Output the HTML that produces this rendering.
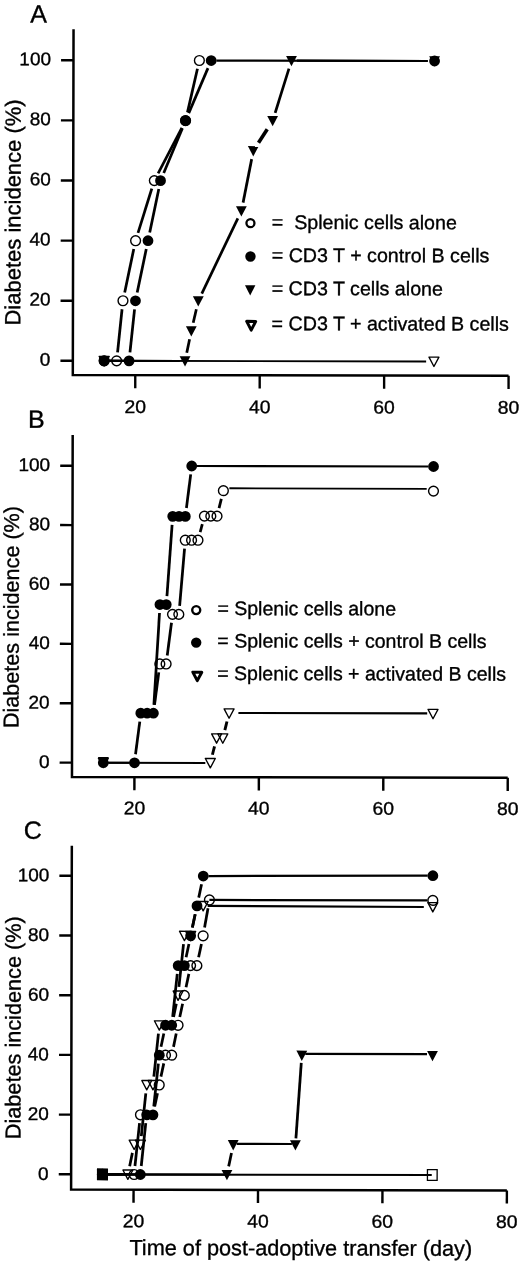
<!DOCTYPE html>
<html><head><meta charset="utf-8"><title>Figure</title>
<style>
html,body{margin:0;padding:0;background:#fff}
svg{display:block}
text{font-family:"Liberation Sans",sans-serif;fill:#000;stroke:#000;stroke-width:0.35px}
.tk{font-size:18.4px}
.pl{font-size:25px}
.yl{font-size:22px}
.xl{font-size:21.7px}
.lg{font-size:19.55px}
</style></head><body>
<svg width="520" height="1263" viewBox="0 0 520 1263">
<rect width="520" height="1263" fill="#fff"/>
<g transform="rotate(0.12)">
<text class="pl" x="30.3" y="22.3">A</text>
<path d="M73.6,29.0 V374.75 H509.35" fill="none" stroke="#000" stroke-width="2.5" stroke-linejoin="miter"/>
<line x1="61.199999999999996" y1="360.65" x2="73.6" y2="360.65" stroke="#000" stroke-width="2.4"/>
<text class="tk" transform="translate(51.1,365.6) scale(1.03,1)" text-anchor="end">0</text>
<line x1="61.199999999999996" y1="300.55" x2="73.6" y2="300.55" stroke="#000" stroke-width="2.4"/>
<text class="tk" transform="translate(51.1,305.5) scale(1.03,1)" text-anchor="end">20</text>
<line x1="61.199999999999996" y1="240.45" x2="73.6" y2="240.45" stroke="#000" stroke-width="2.4"/>
<text class="tk" transform="translate(51.1,245.4) scale(1.03,1)" text-anchor="end">40</text>
<line x1="61.199999999999996" y1="180.35" x2="73.6" y2="180.35" stroke="#000" stroke-width="2.4"/>
<text class="tk" transform="translate(51.1,185.3) scale(1.03,1)" text-anchor="end">60</text>
<line x1="61.199999999999996" y1="120.25" x2="73.6" y2="120.25" stroke="#000" stroke-width="2.4"/>
<text class="tk" transform="translate(51.1,125.2) scale(1.03,1)" text-anchor="end">80</text>
<line x1="61.199999999999996" y1="60.15" x2="73.6" y2="60.15" stroke="#000" stroke-width="2.4"/>
<text class="tk" transform="translate(51.1,65.1) scale(1.03,1)" text-anchor="end">100</text>
<line x1="136.05" y1="374.75" x2="136.05" y2="387.95" stroke="#000" stroke-width="2.4"/>
<text class="tk" transform="translate(136.1,412.8) scale(1.05,1)" text-anchor="middle">20</text>
<line x1="260.49" y1="374.75" x2="260.49" y2="387.95" stroke="#000" stroke-width="2.4"/>
<text class="tk" transform="translate(260.5,412.8) scale(1.05,1)" text-anchor="middle">40</text>
<line x1="384.93" y1="374.75" x2="384.93" y2="387.95" stroke="#000" stroke-width="2.4"/>
<text class="tk" transform="translate(384.9,412.8) scale(1.05,1)" text-anchor="middle">60</text>
<line x1="509.37" y1="374.75" x2="509.37" y2="387.95" stroke="#000" stroke-width="2.4"/>
<text class="tk" transform="translate(509.4,412.8) scale(1.05,1)" text-anchor="middle">80</text>
<text class="yl" style="font-size:22px" transform="translate(21.0,212.4) rotate(-90)" text-anchor="middle">Diabetes incidence (%)</text>
<polygon points="99.97,356.22 109.91,356.22 104.94,365.57" fill="none" stroke="#000" stroke-width="1.35" stroke-linejoin="round"/><polygon points="429.73,356.22 439.68,356.22 434.71,365.57" fill="none" stroke="#000" stroke-width="1.35" stroke-linejoin="round"/><circle cx="104.9" cy="360.6" r="4.90" fill="none" stroke="#000" stroke-width="1.4"/><circle cx="117.4" cy="360.6" r="4.90" fill="none" stroke="#000" stroke-width="1.4"/><circle cx="123.6" cy="300.5" r="4.90" fill="none" stroke="#000" stroke-width="1.4"/><circle cx="136.1" cy="240.4" r="4.90" fill="none" stroke="#000" stroke-width="1.4"/><circle cx="154.7" cy="180.3" r="4.90" fill="none" stroke="#000" stroke-width="1.4"/><circle cx="185.8" cy="120.2" r="4.90" fill="none" stroke="#000" stroke-width="1.4"/><circle cx="199.5" cy="60.1" r="4.90" fill="none" stroke="#000" stroke-width="1.4"/>
<line x1="104.9" y1="360.6" x2="426.9" y2="360.6" stroke="#000" stroke-width="1.90"/><line x1="110.1" y1="360.6" x2="112.2" y2="360.6" stroke="#000" stroke-width="2.20"/><line x1="118.3" y1="352.2" x2="122.7" y2="309.0" stroke="#000" stroke-width="2.75"/><line x1="125.3" y1="292.3" x2="134.3" y2="248.7" stroke="#000" stroke-width="2.74"/><line x1="138.5" y1="232.5" x2="152.2" y2="188.3" stroke="#000" stroke-width="2.73"/><line x1="158.5" y1="173.1" x2="182.1" y2="127.5" stroke="#000" stroke-width="2.69"/><line x1="187.7" y1="112.0" x2="197.6" y2="68.4" stroke="#000" stroke-width="2.74"/><line x1="110.1" y1="360.6" x2="180.6" y2="360.6" stroke="#000" stroke-width="2.20"/><line x1="187.5" y1="352.4" x2="190.3" y2="338.9" stroke="#000" stroke-width="2.74"/><line x1="193.9" y1="322.4" x2="197.0" y2="308.8" stroke="#000" stroke-width="2.74"/><line x1="202.4" y1="293.2" x2="238.3" y2="217.8" stroke="#000" stroke-width="2.70"/><line x1="243.5" y1="202.1" x2="252.0" y2="158.6" stroke="#000" stroke-width="2.74"/><line x1="258.8" y1="142.3" x2="267.5" y2="128.7" stroke="#000" stroke-width="3.60"/><line x1="275.4" y1="112.3" x2="289.1" y2="68.1" stroke="#000" stroke-width="2.73"/><line x1="297.1" y1="60.1" x2="427.9" y2="60.1" stroke="#000" stroke-width="2.20"/><line x1="110.1" y1="360.6" x2="124.6" y2="360.6" stroke="#000" stroke-width="2.20"/><line x1="130.7" y1="352.2" x2="135.2" y2="309.0" stroke="#000" stroke-width="2.75"/><line x1="137.8" y1="292.3" x2="146.8" y2="248.7" stroke="#000" stroke-width="2.74"/><line x1="150.2" y1="232.2" x2="159.2" y2="188.6" stroke="#000" stroke-width="2.74"/><line x1="164.1" y1="172.7" x2="182.7" y2="127.9" stroke="#000" stroke-width="2.71"/><line x1="189.0" y1="112.7" x2="208.1" y2="67.7" stroke="#000" stroke-width="2.71"/><line x1="216.5" y1="60.1" x2="427.9" y2="60.1" stroke="#000" stroke-width="2.20"/>
<polygon points="99.5,355.9 110.3,355.9 104.9,366.2" fill="#000"/><polygon points="180.4,355.9 191.2,355.9 185.8,366.2" fill="#000"/><polygon points="186.6,325.9 197.4,325.9 192.0,336.2" fill="#000"/><polygon points="193.5,295.8 204.3,295.8 198.9,306.1" fill="#000"/><polygon points="236.4,205.7 247.2,205.7 241.8,216.0" fill="#000"/><polygon points="248.2,145.6 259.0,145.6 253.6,155.9" fill="#000"/><polygon points="267.5,115.5 278.3,115.5 272.9,125.8" fill="#000"/><polygon points="286.2,55.4 297.0,55.4 291.6,65.7" fill="#000"/><polygon points="429.3,55.4 440.1,55.4 434.7,65.7" fill="#000"/><circle cx="104.9" cy="360.6" r="5.4" fill="#000"/><circle cx="129.8" cy="360.6" r="5.4" fill="#000"/><circle cx="136.1" cy="300.5" r="5.4" fill="#000"/><circle cx="148.5" cy="240.4" r="5.4" fill="#000"/><circle cx="160.9" cy="180.3" r="5.4" fill="#000"/><circle cx="185.8" cy="120.2" r="5.4" fill="#000"/><circle cx="211.3" cy="60.1" r="5.4" fill="#000"/><circle cx="434.7" cy="60.1" r="5.4" fill="#000"/>
<circle cx="250.9" cy="222.6" r="4.0" fill="none" stroke="#000" stroke-width="2.3"/>
<circle cx="251.0" cy="256.0" r="5.2" fill="#000"/>
<polygon points="245.6,284.7 256.0,284.7 250.8,294.9" fill="#000"/>
<polygon points="247.40,320.85 256.40,320.85 251.90,329.55" fill="none" stroke="#000" stroke-width="3.0" stroke-linejoin="round"/>
<text class="lg" style="font-size:19.65px" x="272.3" y="228.3">=&#160; Splenic cells alone</text>
<text class="lg" style="font-size:19.65px" x="272.3" y="261.3">= CD3 T + control B cells</text>
<text class="lg" style="font-size:19.65px" x="272.3" y="294.5">= CD3 T cells alone</text>
<text class="lg" style="font-size:19.65px" x="272.3" y="329.6">= CD3 T + activated B cells</text>
<text class="pl" x="29.0" y="427.8">B</text>
<path d="M73.6,434.75 V776.75 H509.35" fill="none" stroke="#000" stroke-width="2.5" stroke-linejoin="miter"/>
<line x1="61.199999999999996" y1="762.45" x2="73.6" y2="762.45" stroke="#000" stroke-width="2.4"/>
<text class="tk" transform="translate(51.1,767.8) scale(1.03,1)" text-anchor="end">0</text>
<line x1="61.199999999999996" y1="703.07" x2="73.6" y2="703.07" stroke="#000" stroke-width="2.4"/>
<text class="tk" transform="translate(51.1,708.4) scale(1.03,1)" text-anchor="end">20</text>
<line x1="61.199999999999996" y1="643.69" x2="73.6" y2="643.69" stroke="#000" stroke-width="2.4"/>
<text class="tk" transform="translate(51.1,649.0) scale(1.03,1)" text-anchor="end">40</text>
<line x1="61.199999999999996" y1="584.31" x2="73.6" y2="584.31" stroke="#000" stroke-width="2.4"/>
<text class="tk" transform="translate(51.1,589.6) scale(1.03,1)" text-anchor="end">60</text>
<line x1="61.199999999999996" y1="524.93" x2="73.6" y2="524.93" stroke="#000" stroke-width="2.4"/>
<text class="tk" transform="translate(51.1,530.2) scale(1.03,1)" text-anchor="end">80</text>
<line x1="61.199999999999996" y1="465.55" x2="73.6" y2="465.55" stroke="#000" stroke-width="2.4"/>
<text class="tk" transform="translate(51.1,470.9) scale(1.03,1)" text-anchor="end">100</text>
<line x1="136.05" y1="776.75" x2="136.05" y2="789.95" stroke="#000" stroke-width="2.4"/>
<text class="tk" transform="translate(136.1,814.0) scale(1.05,1)" text-anchor="middle">20</text>
<line x1="260.49" y1="776.75" x2="260.49" y2="789.95" stroke="#000" stroke-width="2.4"/>
<text class="tk" transform="translate(260.5,814.0) scale(1.05,1)" text-anchor="middle">40</text>
<line x1="384.93" y1="776.75" x2="384.93" y2="789.95" stroke="#000" stroke-width="2.4"/>
<text class="tk" transform="translate(384.9,814.0) scale(1.05,1)" text-anchor="middle">60</text>
<line x1="509.37" y1="776.75" x2="509.37" y2="789.95" stroke="#000" stroke-width="2.4"/>
<text class="tk" transform="translate(509.4,814.0) scale(1.05,1)" text-anchor="middle">80</text>
<text class="yl" style="font-size:21.6px" transform="translate(20.1,617.0) rotate(-90)" text-anchor="middle">Diabetes incidence (%)</text>
<polygon points="99.97,758.02 109.91,758.02 104.94,767.37" fill="none" stroke="#000" stroke-width="1.35" stroke-linejoin="round"/><polygon points="206.94,758.02 216.89,758.02 211.91,767.37" fill="none" stroke="#000" stroke-width="1.35" stroke-linejoin="round"/><polygon points="213.16,733.38 223.11,733.38 218.14,742.73" fill="none" stroke="#000" stroke-width="1.35" stroke-linejoin="round"/><polygon points="219.39,733.38 229.33,733.38 224.36,742.73" fill="none" stroke="#000" stroke-width="1.35" stroke-linejoin="round"/><polygon points="225.61,708.44 235.55,708.44 230.58,717.79" fill="none" stroke="#000" stroke-width="1.35" stroke-linejoin="round"/><polygon points="429.53,708.44 439.48,708.44 434.51,717.79" fill="none" stroke="#000" stroke-width="1.35" stroke-linejoin="round"/><circle cx="161.2" cy="663.6" r="4.90" fill="none" stroke="#000" stroke-width="1.4"/><circle cx="167.5" cy="663.6" r="4.90" fill="none" stroke="#000" stroke-width="1.4"/><circle cx="173.8" cy="614.0" r="4.90" fill="none" stroke="#000" stroke-width="1.4"/><circle cx="180.1" cy="614.0" r="4.90" fill="none" stroke="#000" stroke-width="1.4"/><circle cx="186.4" cy="539.8" r="4.90" fill="none" stroke="#000" stroke-width="1.4"/><circle cx="192.7" cy="539.8" r="4.90" fill="none" stroke="#000" stroke-width="1.4"/><circle cx="199.1" cy="539.8" r="4.90" fill="none" stroke="#000" stroke-width="1.4"/><circle cx="205.5" cy="515.7" r="4.90" fill="none" stroke="#000" stroke-width="1.4"/><circle cx="211.9" cy="515.7" r="4.90" fill="none" stroke="#000" stroke-width="1.4"/><circle cx="218.1" cy="515.7" r="4.90" fill="none" stroke="#000" stroke-width="1.4"/><circle cx="224.4" cy="490.2" r="4.90" fill="none" stroke="#000" stroke-width="1.4"/><circle cx="434.5" cy="490.2" r="4.90" fill="none" stroke="#000" stroke-width="1.4"/>
<line x1="104.9" y1="762.5" x2="206.9" y2="762.5" stroke="#000" stroke-width="2.10"/><line x1="214.0" y1="754.3" x2="216.1" y2="746.0" stroke="#000" stroke-width="2.88"/><line x1="226.4" y1="729.7" x2="228.5" y2="721.0" stroke="#000" stroke-width="2.88"/><line x1="239.9" y1="712.5" x2="428.7" y2="712.5" stroke="#000" stroke-width="2.10"/><line x1="156.0" y1="704.5" x2="160.2" y2="672.0" stroke="#000" stroke-width="2.75"/><line x1="168.6" y1="655.2" x2="172.8" y2="622.4" stroke="#000" stroke-width="2.75"/><line x1="180.9" y1="605.5" x2="185.7" y2="548.2" stroke="#000" stroke-width="2.75"/><line x1="201.3" y1="531.7" x2="203.4" y2="523.8" stroke="#000" stroke-width="2.73"/><line x1="220.1" y1="507.6" x2="222.4" y2="498.4" stroke="#000" stroke-width="2.73"/><line x1="230.4" y1="487.8" x2="427.7" y2="488.0" stroke="#000" stroke-width="1.9"/><line x1="110.1" y1="762.5" x2="130.9" y2="762.5" stroke="#000" stroke-width="2.20"/><line x1="137.1" y1="754.0" x2="141.3" y2="721.3" stroke="#000" stroke-width="2.75"/><line x1="155.4" y1="704.4" x2="160.8" y2="612.7" stroke="#000" stroke-width="2.75"/><line x1="168.2" y1="595.7" x2="173.2" y2="524.5" stroke="#000" stroke-width="2.75"/><line x1="187.5" y1="507.6" x2="191.7" y2="474.0" stroke="#000" stroke-width="2.75"/><line x1="197.9" y1="465.6" x2="429.3" y2="465.6" stroke="#000" stroke-width="2.20"/>
<circle cx="104.9" cy="762.5" r="5.4" fill="#000"/><circle cx="136.1" cy="762.5" r="5.4" fill="#000"/><circle cx="142.3" cy="712.9" r="5.4" fill="#000"/><circle cx="148.6" cy="712.9" r="5.4" fill="#000"/><circle cx="154.9" cy="712.9" r="5.4" fill="#000"/><circle cx="161.2" cy="604.2" r="5.4" fill="#000"/><circle cx="167.5" cy="604.2" r="5.4" fill="#000"/><circle cx="173.8" cy="516.0" r="5.4" fill="#000"/><circle cx="180.1" cy="516.0" r="5.4" fill="#000"/><circle cx="186.4" cy="516.0" r="5.4" fill="#000"/><circle cx="192.7" cy="465.6" r="5.4" fill="#000"/><circle cx="434.5" cy="465.6" r="5.4" fill="#000"/>
<polygon points="99.5,756.8 110.3,756.8 104.9,767.0" fill="#000"/>
<circle cx="197.5" cy="609.7" r="4.0" fill="none" stroke="#000" stroke-width="2.4"/>
<circle cx="197.55" cy="642.2" r="5.2" fill="#000"/>
<polygon points="194.20,671.75 203.20,671.75 198.70,680.25" fill="none" stroke="#000" stroke-width="3.0" stroke-linejoin="round"/>
<text class="lg" x="218.7" y="614.6">= Splenic cells alone</text>
<text class="lg" x="218.7" y="646.9">= Splenic cells + control B cells</text>
<text class="lg" x="218.7" y="679.6">= Splenic cells + activated B cells</text>
<text class="pl" x="25.5" y="838.6">C</text>
<path d="M73.6,845.65 V1189.35 H509.35" fill="none" stroke="#000" stroke-width="2.5" stroke-linejoin="miter"/>
<line x1="61.199999999999996" y1="1174.15" x2="73.6" y2="1174.15" stroke="#000" stroke-width="2.4"/>
<text class="tk" transform="translate(51.1,1179.8) scale(1.03,1)" text-anchor="end">0</text>
<line x1="61.199999999999996" y1="1114.45" x2="73.6" y2="1114.45" stroke="#000" stroke-width="2.4"/>
<text class="tk" transform="translate(51.1,1120.0) scale(1.03,1)" text-anchor="end">20</text>
<line x1="61.199999999999996" y1="1054.75" x2="73.6" y2="1054.75" stroke="#000" stroke-width="2.4"/>
<text class="tk" transform="translate(51.1,1060.3) scale(1.03,1)" text-anchor="end">40</text>
<line x1="61.199999999999996" y1="995.05" x2="73.6" y2="995.05" stroke="#000" stroke-width="2.4"/>
<text class="tk" transform="translate(51.1,1000.6) scale(1.03,1)" text-anchor="end">60</text>
<line x1="61.199999999999996" y1="935.35" x2="73.6" y2="935.35" stroke="#000" stroke-width="2.4"/>
<text class="tk" transform="translate(51.1,941.0) scale(1.03,1)" text-anchor="end">80</text>
<line x1="61.199999999999996" y1="875.65" x2="73.6" y2="875.65" stroke="#000" stroke-width="2.4"/>
<text class="tk" transform="translate(51.1,881.2) scale(1.03,1)" text-anchor="end">100</text>
<line x1="136.05" y1="1189.35" x2="136.05" y2="1202.55" stroke="#000" stroke-width="2.4"/>
<text class="tk" transform="translate(136.1,1226.9) scale(1.05,1)" text-anchor="middle">20</text>
<line x1="260.49" y1="1189.35" x2="260.49" y2="1202.55" stroke="#000" stroke-width="2.4"/>
<text class="tk" transform="translate(260.5,1226.9) scale(1.05,1)" text-anchor="middle">40</text>
<line x1="384.93" y1="1189.35" x2="384.93" y2="1202.55" stroke="#000" stroke-width="2.4"/>
<text class="tk" transform="translate(384.9,1226.9) scale(1.05,1)" text-anchor="middle">60</text>
<line x1="509.37" y1="1189.35" x2="509.37" y2="1202.55" stroke="#000" stroke-width="2.4"/>
<text class="tk" transform="translate(509.4,1226.9) scale(1.05,1)" text-anchor="middle">80</text>
<text class="yl" style="font-size:21.7px" transform="translate(22.8,1027.7) rotate(-90)" text-anchor="middle">Diabetes incidence (%)</text>
<rect x="100.1" y="1168.8" width="9.7" height="10.7" fill="none" stroke="#000" stroke-width="1.3"/><rect x="429.9" y="1168.8" width="9.7" height="10.7" fill="none" stroke="#000" stroke-width="1.3"/><polygon points="99.97,1169.73 109.91,1169.73 104.94,1179.07" fill="none" stroke="#000" stroke-width="1.35" stroke-linejoin="round"/><polygon points="125.36,1169.73 135.31,1169.73 130.34,1179.07" fill="none" stroke="#000" stroke-width="1.35" stroke-linejoin="round"/><polygon points="131.59,1139.88 141.54,1139.88 136.56,1149.22" fill="none" stroke="#000" stroke-width="1.35" stroke-linejoin="round"/><polygon points="137.82,1139.88 147.77,1139.88 142.79,1149.22" fill="none" stroke="#000" stroke-width="1.35" stroke-linejoin="round"/><polygon points="144.05,1080.18 154.00,1080.18 149.02,1089.52" fill="none" stroke="#000" stroke-width="1.35" stroke-linejoin="round"/><polygon points="150.28,1080.18 160.22,1080.18 155.25,1089.52" fill="none" stroke="#000" stroke-width="1.35" stroke-linejoin="round"/><polygon points="156.51,1020.48 166.45,1020.48 161.48,1029.82" fill="none" stroke="#000" stroke-width="1.35" stroke-linejoin="round"/><polygon points="175.20,990.62 185.14,990.62 180.17,999.97" fill="none" stroke="#000" stroke-width="1.35" stroke-linejoin="round"/><polygon points="181.42,930.92 191.37,930.92 186.40,940.27" fill="none" stroke="#000" stroke-width="1.35" stroke-linejoin="round"/><polygon points="187.65,930.92 197.60,930.92 192.63,940.27" fill="none" stroke="#000" stroke-width="1.35" stroke-linejoin="round"/><polygon points="200.11,901.07 210.06,901.07 205.08,910.42" fill="none" stroke="#000" stroke-width="1.35" stroke-linejoin="round"/><polygon points="429.73,901.67 439.68,901.67 434.71,911.02" fill="none" stroke="#000" stroke-width="1.35" stroke-linejoin="round"/><circle cx="104.9" cy="1174.2" r="4.90" fill="none" stroke="#000" stroke-width="1.4"/><circle cx="136.6" cy="1174.2" r="4.90" fill="none" stroke="#000" stroke-width="1.4"/><circle cx="142.8" cy="1114.5" r="4.90" fill="none" stroke="#000" stroke-width="1.4"/><circle cx="161.5" cy="1084.6" r="4.90" fill="none" stroke="#000" stroke-width="1.4"/><circle cx="167.7" cy="1054.8" r="4.90" fill="none" stroke="#000" stroke-width="1.4"/><circle cx="173.9" cy="1054.8" r="4.90" fill="none" stroke="#000" stroke-width="1.4"/><circle cx="180.2" cy="1024.9" r="4.90" fill="none" stroke="#000" stroke-width="1.4"/><circle cx="186.4" cy="995.0" r="4.90" fill="none" stroke="#000" stroke-width="1.4"/><circle cx="192.6" cy="965.2" r="4.90" fill="none" stroke="#000" stroke-width="1.4"/><circle cx="198.9" cy="965.2" r="4.90" fill="none" stroke="#000" stroke-width="1.4"/><circle cx="205.1" cy="935.4" r="4.90" fill="none" stroke="#000" stroke-width="1.4"/><circle cx="211.3" cy="899.5" r="4.90" fill="none" stroke="#000" stroke-width="1.4"/><circle cx="434.7" cy="899.5" r="4.90" fill="none" stroke="#000" stroke-width="1.4"/>
<line x1="104.9" y1="1174.2" x2="434.2" y2="1174.2" stroke="#000" stroke-width="2.00"/><line x1="110.1" y1="1174.2" x2="125.1" y2="1174.2" stroke="#000" stroke-width="2.20"/><line x1="132.1" y1="1165.9" x2="134.8" y2="1152.6" stroke="#000" stroke-width="2.74"/><line x1="143.7" y1="1135.9" x2="148.1" y2="1093.0" stroke="#000" stroke-width="2.75"/><line x1="156.1" y1="1076.2" x2="160.6" y2="1033.3" stroke="#000" stroke-width="2.75"/><line x1="175.7" y1="1016.6" x2="178.4" y2="1003.3" stroke="#000" stroke-width="2.74"/><line x1="181.0" y1="986.6" x2="185.5" y2="943.8" stroke="#000" stroke-width="2.75"/><line x1="194.3" y1="927.1" x2="197.1" y2="913.8" stroke="#000" stroke-width="2.74"/><line x1="209.6" y1="905.5" x2="425.7" y2="906.1" stroke="#000" stroke-width="2.20"/><line x1="110.1" y1="1174.2" x2="131.4" y2="1174.2" stroke="#000" stroke-width="2.20"/><line x1="137.4" y1="1165.7" x2="141.9" y2="1122.9" stroke="#000" stroke-width="2.75"/><line x1="157.0" y1="1106.2" x2="159.8" y2="1092.9" stroke="#000" stroke-width="2.74"/><line x1="163.2" y1="1076.3" x2="166.0" y2="1063.0" stroke="#000" stroke-width="2.74"/><line x1="175.7" y1="1046.5" x2="178.4" y2="1033.2" stroke="#000" stroke-width="2.74"/><line x1="181.9" y1="1016.6" x2="184.7" y2="1003.3" stroke="#000" stroke-width="2.74"/><line x1="188.1" y1="986.8" x2="190.9" y2="973.5" stroke="#000" stroke-width="2.74"/><line x1="200.6" y1="956.9" x2="203.4" y2="943.6" stroke="#000" stroke-width="2.74"/><line x1="206.5" y1="927.0" x2="209.9" y2="907.9" stroke="#000" stroke-width="2.74"/><line x1="211.3" y1="899.5" x2="429.3" y2="899.5" stroke="#000" stroke-width="2.20"/><line x1="104.9" y1="1174.2" x2="229.4" y2="1174.2" stroke="#000" stroke-width="2.20"/><line x1="231.1" y1="1165.9" x2="233.9" y2="1152.6" stroke="#000" stroke-width="2.74"/><line x1="239.1" y1="1143.4" x2="294.3" y2="1143.4" stroke="#000" stroke-width="2.20"/><line x1="298.3" y1="1137.8" x2="303.5" y2="1062.2" stroke="#000" stroke-width="2.75"/><line x1="307.5" y1="1053.2" x2="429.2" y2="1053.2" stroke="#000" stroke-width="2.20"/><line x1="104.9" y1="1174.2" x2="142.8" y2="1174.2" stroke="#000" stroke-width="2.20"/><line x1="143.7" y1="1165.7" x2="148.1" y2="1122.9" stroke="#000" stroke-width="2.75"/><line x1="156.1" y1="1106.0" x2="160.6" y2="1063.2" stroke="#000" stroke-width="2.75"/><line x1="163.2" y1="1046.5" x2="166.0" y2="1033.2" stroke="#000" stroke-width="2.74"/><line x1="174.8" y1="1016.5" x2="179.3" y2="973.6" stroke="#000" stroke-width="2.75"/><line x1="188.1" y1="956.9" x2="190.9" y2="943.6" stroke="#000" stroke-width="2.74"/><line x1="194.3" y1="927.1" x2="197.1" y2="913.8" stroke="#000" stroke-width="2.74"/><line x1="200.6" y1="897.2" x2="203.4" y2="883.9" stroke="#000" stroke-width="2.74"/><line x1="210.3" y1="875.6" x2="429.5" y2="874.8" stroke="#000" stroke-width="2.20"/>
<polygon points="99.5,1169.5 110.3,1169.5 104.9,1179.8" fill="#000"/><polygon points="224.0,1169.5 234.8,1169.5 229.4,1179.8" fill="#000"/><polygon points="230.2,1139.6 241.0,1139.6 235.6,1149.9" fill="#000"/><polygon points="292.4,1139.6 303.2,1139.6 297.8,1149.9" fill="#000"/><polygon points="298.6,1050.0 309.4,1050.0 304.0,1060.3" fill="#000"/><polygon points="429.3,1050.0 440.1,1050.0 434.7,1060.3" fill="#000"/><circle cx="104.9" cy="1174.2" r="5.4" fill="#000"/><circle cx="142.8" cy="1174.2" r="5.4" fill="#000"/><circle cx="149.0" cy="1114.5" r="5.4" fill="#000"/><circle cx="155.3" cy="1114.5" r="5.4" fill="#000"/><circle cx="161.5" cy="1054.8" r="5.4" fill="#000"/><circle cx="167.7" cy="1024.9" r="5.4" fill="#000"/><circle cx="173.9" cy="1024.9" r="5.4" fill="#000"/><circle cx="180.2" cy="965.2" r="5.4" fill="#000"/><circle cx="186.4" cy="965.2" r="5.4" fill="#000"/><circle cx="192.6" cy="935.4" r="5.4" fill="#000"/><circle cx="198.9" cy="905.5" r="5.4" fill="#000"/><circle cx="205.1" cy="875.6" r="5.4" fill="#000"/><circle cx="434.7" cy="874.8" r="5.4" fill="#000"/>
<rect x="99.4" y="1168.7" width="11.0" height="11.0" fill="#000"/>
<text class="xl" x="303.4" y="1254.8" text-anchor="middle">Time of post-adoptive transfer (day)</text>
</g>
</svg>
</body></html>
